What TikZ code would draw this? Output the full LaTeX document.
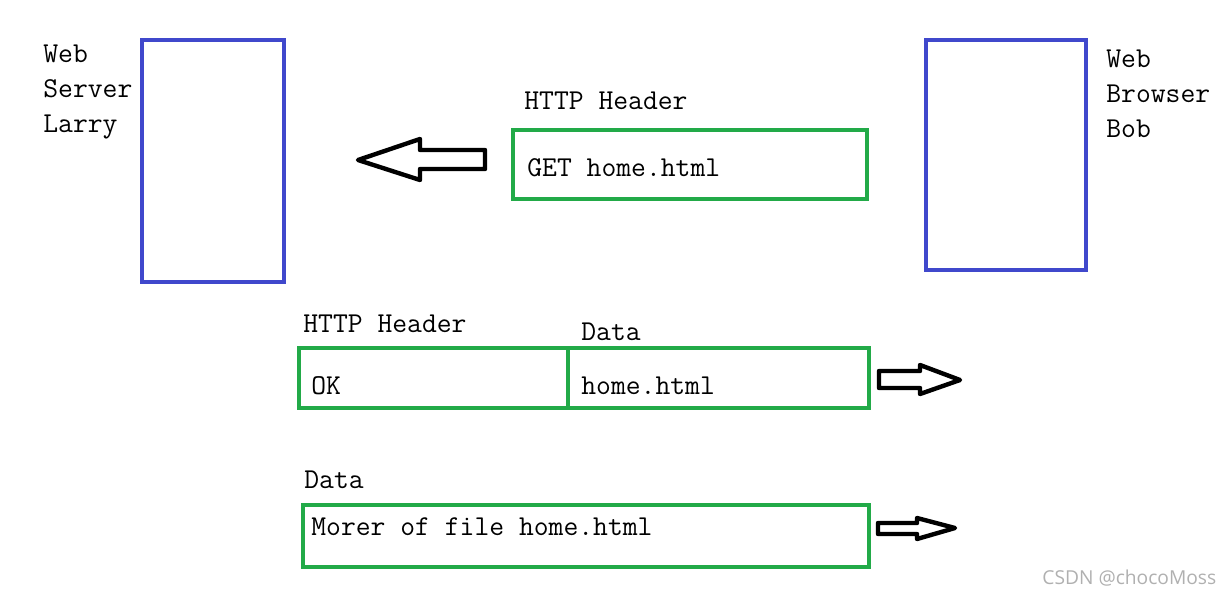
\documentclass[tikz,border=0pt]{standalone}
\usepackage{fontspec}
\newfontfamily\markfont{Open Sans}
\definecolor{boxblue}{RGB}{64,72,204}
\definecolor{boxgreen}{RGB}{34,170,72}
\definecolor{markgray}{RGB}{176,176,176}
\tikzset{
  hostbox/.style={draw=boxblue, line width=2pt},
  msgbox/.style={draw=boxgreen, line width=2pt},
  flow/.style={draw=black, line width=2.2pt, line join=round, fill=white},
  label/.style={anchor=base west, inner sep=0pt, font=\ttfamily\fontsize{14.4}{17.5}\selectfont},
}

\begin{document}
\begin{tikzpicture}[x=0.5pt, y=-0.5pt]
\useasboundingbox (0,0) rectangle (1230,595);
% Hosts
    \draw[hostbox] (142,40) rectangle (284,282);
    \draw[hostbox] (926,40) rectangle (1086,270);
    \node[label] (web1) at (43,62) {Web};
    \node[label] (server) at (43,97) {Server};
    \node[label] (larry) at (43,132) {Larry};
    \node[label] (web2) at (1106,67) {Web};
    \node[label] (browser) at (1106,102) {Browser};
    \node[label] (bob) at (1106,137) {Bob};
% Request
    \node[label] (reqhead) at (524,109) {HTTP Header};
    \draw[msgbox] (513,130) rectangle (867,199);
    \node[label] (get) at (527,176) {GET home.html};
    \draw[flow] (485,150) -- (420,150) -- (420,139) -- (358,160) -- (420,180) -- (420,169) -- (485,169) -- cycle;
% First reply
    \node[label] (okhead) at (303,332) {HTTP Header};
    \node[label] (data1) at (581,340) {Data};
    \draw[msgbox] (299,348) rectangle (869,408);
    \draw[msgbox] (568,348) -- (568,408);
    \node[label] (ok) at (311,394) {OK};
    \node[label] (file1) at (581,394) {home.html};
    \draw[flow] (879,371) -- (920,371) -- (920,365) -- (960,380) -- (920,394) -- (920,388) -- (879,388) -- cycle;
% Second reply
    \node[label] (data2) at (304,488) {Data};
    \draw[msgbox] (303,505) rectangle (869,567);
    \node[label] (more) at (311,535) {Morer of file home.html};
    \draw[flow] (878,523) -- (917,523) -- (917,518) -- (955,528) -- (917,539) -- (917,534) -- (878,534) -- cycle;
% Watermark
    \node[anchor=base west, inner sep=0pt, text=markgray, font=\markfont\fontsize{9.6}{12}\selectfont] (mark) at (1042,584) {CSDN @chocoMoss};
\end{tikzpicture}
\end{document}
